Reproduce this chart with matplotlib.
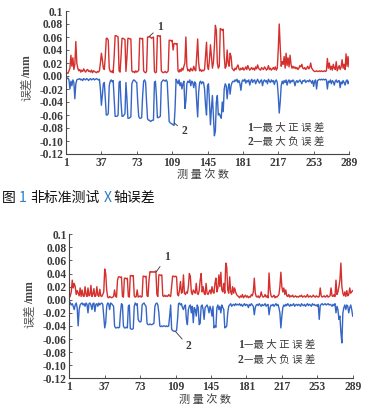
import numpy as np
import matplotlib
matplotlib.use("Agg")
import matplotlib.pyplot as plt

W, H = 369, 411

# ---------------- data (errors in 0.001 mm) ----------------
ticks_x = [1, 37, 73, 109, 145, 181, 217, 253, 289]
ticks_y = [-0.12, -0.10, -0.08, -0.06, -0.04, -0.02, 0.00, 0.02, 0.04, 0.06, 0.08, 0.1]
tick_y_labels = ['-0.12', '-0.10', '-0.08', '-0.06', '-0.04', '-0.02', '0.00',
                 '0.02', '0.04', '0.06', '0.08', '0.1']

top_pos = [3, 5, 4, 8, 12, 32, 15, 28, 10, 18, 53, 20, 12,
           8, 10, 6, 9, 7, 11, 8, 6, 9, 10, 7, 8, 6, 9, 5, 8, 7, 6, 5, 7, 6, 8,
           20, 35, 25, 12, 10, 30, 58, 58, 55, 12, 7, 6, 8, 5, 30,
           62, 62, 61, 60, 8, 6, 30, 58, 58, 57, 56, 7, 28, 58, 58, 57, 57, 8, 6, 7, 5, 8, 6, 7, 9,
           58, 58, 57, 58, 8, 6, 5, 7, 60, 60, 60, 60, 58, 59, 60, 7, 5, 6, 62, 62, 61, 62, 8, 6, 5,
           6, 7, 5, 6, 8, 55, 55, 54, 55, 40, 50, 50, 49, 50, 8, 6, 10, 7, 12, 9, 15, 20, 60, 15, 8,
           10, 7, 12, 9, 8, 15, 10, 8, 30, 57, 20, 8, 10, 7, 9,
           8, 10, 30, 52, 15, 10, 25, 48, 30, 12, 20, 45, 78, 70, 20, 12, 15, 73, 72, 70,
           72, 30, 12, 15, 40, 20, 15, 35, 30, 12, 10, 8,
           12, 10, 14, 17, 11, 9, 12, 10, 13, 9, 11, 14, 10, 16, 12, 9, 11, 13, 10, 12,
           9, 14, 11, 17, 12, 10, 9, 13, 11, 10, 14, 12, 9, 11, 16, 10, 12, 9, 11, 13, 10, 14, 9, 12,
           40, 80, 45, 15, 22, 18, 30, 12, 35, 16, 28, 14, 32, 18, 12, 15,
           12, 14, 11, 13, 10, 12, 16, 14, 18, 12, 11, 13, 10, 12, 15, 11, 13, 20, 12, 10,
           8, 7, 7, 8, 7, 7, 8, 7, 8, 7, 7, 8, 7, 8,
           27, 12, 20, 10, 15, 9, 18, 12, 10, 22, 8, 12, 16, 10, 14, 25, 12, 18, 10, 34, 15, 30, 14]

top_neg = [-2, -4, -3, -6, -20, -8, -15, -6, -10, -35, -12, -6, -5,
           -5, -4, -6, -5, -7, -4, -5, -6, -4, -5, -7, -5, -4, -6, -5, -4, -6, -5, -4, -5, -6, -5,
           -20, -45, -30, -12, -10, -35, -60, -60, -58, -15, -8, -6, -9, -7, -35,
           -62, -62, -62, -60, -10, -8, -40, -62, -62, -60, -58, -10, -35, -65, -65, -64, -63,
           -12, -8, -6, -7, -9, -10, -40, -62,
           -65, -65, -64, -30, -8, -6, -10, -40, -66, -68, -68, -70, -69, -68, -68, -10, -8, -30,
           -64, -64, -63, -62, -10, -8, -6,
           -7, -8, -6, -9, -40, -70, -72, -73, -74, -75, -76, -50, -5, -8, -12, -6, -15, -10, -20,
           -12, -8, -50, -38, -12, -8,
           -10, -6, -15, -8, -10, -18, -9, -12, -40, -63, -25, -10, -8, -12, -9,
           -10, -20, -45, -60, -15, -12, -40, -75, -50, -30, -60, -92, -85, -40, -30, -60, -58, -62,
           -65, -40, -55, -20, -12, -15, -35, -18, -12, -28, -15, -10, -8, -9,
           -6, -8, -5, -10, -7, -12, -22, -9, -6, -8, -5, -11, -7, -9, -6, -14, -8, -5, -10, -7,
           -6, -12, -8, -5, -9, -11, -7, -6, -15, -8, -6, -9, -7, -12, -5, -8, -10, -6, -9, -7,
           -13, -8, -6, -10,
           -30, -57, -40, -15, -8, -12, -7, -10, -6, -14, -8, -6, -11, -7, -9, -6,
           -8, -15, -9, -7, -10, -8, -6, -9, -12, -7, -8, -6, -10, -8, -7, -9, -6, -8, -11, -7,
           -16, -8, -6, -20, -7, -6, -5, -6, -5, -6, -5, -6, -5, -6,
           -20, -8, -10, -6, -12, -7, -9, -14, -8, -6, -10, -8, -7, -18, -9, -12, -7, -10, -14, -8,
           -6, -12, -8]

bot_pos = [3, 6, 12, 30, 18, 25, 20, 8, 14, 10, 6, 18, 5,
           15, 6, 5, 20, 8, 5, 18, 6, 7, 22, 5, 8, 17, 5, 6, 20, 7, 5, 16, 6, 5, 8, 12,
           47, 40, 15, 4, 3, 5, 4, 3, 4, 5, 15, 5, 4, 30,
           35, 35, 34, 35, 5, 4, 33, 33, 32, 33, 5, 4, 37, 37, 36, 37, 6, 4, 5, 15, 4, 5, 6, 4, 5,
           36, 36, 35, 36, 6, 5, 30, 43, 42, 43, 42, 43, 42, 44, 8, 5, 38, 38, 37, 38, 6, 5, 7, 5, 6,
           5, 8, 6, 5, 20, 36, 36, 35, 36, 35, 8, 6, 15, 28, 10, 12, 38, 10, 8, 12, 10, 20, 40, 36, 12,
           8, 15, 12, 10, 25, 10, 8, 14, 30, 40, 12, 20, 10, 8, 25,
           10, 8, 12, 15, 9, 20, 12, 10, 25, 33, 12, 18, 38, 20, 42, 15, 12, 25, 10, 56,
           50, 15, 10, 35, 12, 8, 20, 10, 18, 12, 8, 6,
           5, 3, 6, 4, 8, 3, 5, 7, 4, 6, 3, 5, 4, 8, 6, 12, 33, 10, 5, 4,
           6, 3, 5, 12, 6, 4, 5, 8, 4, 6, 3, 41, 15, 6, 4, 5, 7, 3, 5, 4, 6, 8, 20, 42,
           20, 12, 18, 8, 15, 6, 5, 8, 4, 6, 5, 7, 4, 5, 6, 4,
           5, 4, 6, 5, 7, 4, 5, 6, 4, 5, 8, 4, 5, 6, 4, 5, 7, 5, 4, 6,
           5, 4, 5, 18, 6, 4, 5, 6, 4, 5, 7, 4, 5, 6,
           18, 6, 5, 8, 5, 30, 8, 12, 20, 30, 56, 20, 10, 6, 12, 5, 14, 6, 8, 18, 10, 12, 14]

bot_neg = [-2, -5, -8, -6, -10, -15, -8, -5, -12, -40, -15, -8, -6,
           -5, -8, -6, -10, -5, -7, -20, -6, -5, -8, -15, -6, -5, -18, -7, -6, -10, -5, -8, -6, -5,
           -7, -25,
           -43, -35, -10, -5, -6, -15, -5, -6, -8, -10, -40, -43, -43, -42,
           -43, -42, -20, -6, -8, -40, -43, -43, -42, -43, -10, -8, -44, -45, -45, -44, -10,
           -5, -8, -6, -30, -33, -34, -33, -8,
           -6, -5, -8, -10, -36, -38, -38, -37, -38, -38, -37, -36, -10, -6, -5, -8,
           -20, -40, -41, -40, -41, -40, -40, -41, -40,
           -41, -40, -25, -8, -45, -47, -48, -48, -48, -47, -30, -6, -5, -8, -6, -12, -15, -10, -8,
           -30, -38, -15, -10, -8, -20,
           -10, -35, -12, -15, -25, -8, -12, -38, -36, -10, -8, -15, -30, -12, -10,
           -8, -12, -20, -10, -15, -25, -10, -43, -40, -42, -12, -8, -15, -10, -20, -8, -12, -15,
           -43, -42, -40, -20, -10, -8, -6, -10, -8, -7, -9, -6, -8, -7,
           -8, -6, -9, -7, -10, -8, -6, -9, -7, -8, -12, -7, -9, -6, -8, -10, -23, -12, -8, -7,
           -9, -6, -8, -10, -7, -9, -8, -6, -10, -8, -7, -23, -12, -8, -9, -7, -10, -8, -6, -9,
           -7, -12, -20, -43,
           -25, -12, -8, -10, -7, -9, -6, -8, -10, -7, -9, -8, -6, -10, -8, -7,
           -9, -7, -8, -10, -6, -8, -9, -7, -10, -8, -6, -9, -7, -8, -10, -6, -8, -7, -9, -8,
           -10, -7, -30, -9, -7, -6, -8, -7, -6, -8, -7, -6, -8, -7,
           -8, -10, -7, -9, -6, -20, -10, -15, -30, -25, -50, -66, -20, -12, -8, -15, -8, -10, -20,
           -12, -8, -15, -25]

caption_parts = [("图", "k"), ("1", "blue"), ("非标准测试", "k"), ("X", "blue"), ("轴误差", "k")]
legend_lines = [("1", "—最 大 正 误 差"), ("2", "—最 大 负 误 差")]
ylabel_cn, ylabel_unit = "误差", "/mm"
xlabel_txt = "测 量 次 数"

for arr in (top_pos, top_neg, bot_pos, bot_neg):
    assert len(arr) == 289, len(arr)

n = np.arange(1, 290)
RED = '#d4302e'
BLUE = '#3566c6'
CAP_BLUE = '#2a7cc4'
TXT = '#3a3a3a'
SERIF = 'Liberation Serif'
CJK = 'Noto Sans CJK SC'

fig = plt.figure(figsize=(W / 100, H / 100), dpi=100)
fig.patch.set_facecolor('white')


def fx(x):
    return x / W


def fy(y):
    return 1 - y / H


def make_axes(l, r, t, b):
    ax = fig.add_axes([fx(l), fy(b), fx(r) - fx(l), fy(t) - fy(b)])
    ax.set_xlim(1, 289)
    ax.set_ylim(-0.12, 0.1)
    ax.set_xticks(ticks_x)
    ax.set_yticks(ticks_y)
    ax.set_yticklabels(tick_y_labels)
    for s in ('top', 'right'):
        ax.spines[s].set_visible(False)
    for s in ('left', 'bottom'):
        ax.spines[s].set_color('#444444')
        ax.spines[s].set_linewidth(0.8)
    ax.tick_params(direction='in', length=2.5, width=0.6, colors='#444444', pad=2)
    for lab in ax.get_xticklabels() + ax.get_yticklabels():
        lab.set_fontfamily(SERIF)
        lab.set_fontweight('bold')
        lab.set_fontsize(8.3)
        lab.set_color(TXT)
    ax.set_facecolor('none')
    return ax


ax1 = make_axes(66, 349, 11, 154)
ax1.plot(n, np.array(top_pos) / 1000, color=RED, lw=1.0)
ax1.plot(n, np.array(top_neg) / 1000, color=BLUE, lw=1.0)

ax2 = make_axes(69.3, 352.7, 234.3, 378.3)
ax2.plot(n, np.array(bot_pos) / 1000, color=RED, lw=1.0)
ax2.plot(n, np.array(bot_neg) / 1000, color=BLUE, lw=1.0)

ann_kw = dict(fontfamily=SERIF, fontweight='bold', fontsize=8.3, color=TXT,
              ha='center', va='center',
              arrowprops=dict(arrowstyle='-', lw=0.6, color='#333333', shrinkA=1, shrinkB=0))
ax1.annotate('1', xy=(85.4, 0.0605), xytext=(96.6, 0.0754), **ann_kw)
ax1.annotate('2', xy=(111.2, -0.0723), xytext=(121.3, -0.085), **ann_kw)
ax2.annotate('1', xy=(89.6, 0.043), xytext=(99.8, 0.065), **ann_kw)
ax2.annotate('2', xy=(108.9, -0.0485), xytext=(122.4, -0.0714), **ann_kw)

r = fig.canvas.get_renderer()


def legend_block(x, y0, dy):
    for i, (num, rest) in enumerate(legend_lines):
        y = y0 + i * dy
        t = fig.text(fx(x), fy(y), num, fontfamily=SERIF, fontweight='bold', fontsize=8.3,
                     color=TXT, ha='left', va='center')
        w = t.get_window_extent(renderer=r).width
        fig.text(fx(x + w + 0.5), fy(y), rest, fontfamily=[CJK, SERIF], fontsize=7.6,
                 color=TXT, ha='left', va='center')


legend_block(247, 128, 14)
legend_block(238, 345, 15)

# y labels
for (xc, ycn, yun) in [(27, 89, 67), (30, 316, 293)]:
    fig.text(fx(xc), fy(ycn), ylabel_cn, fontfamily=CJK, fontsize=8.5, color='#555555',
             rotation=90, ha='center', va='center')
    fig.text(fx(xc), fy(yun), ylabel_unit, fontfamily=SERIF, fontweight='bold', fontsize=8.5,
             color='#444444', rotation=90, ha='center', va='center')

# x labels
fig.text(fx(203), fy(175), xlabel_txt, fontfamily=CJK, fontsize=8.0, color=TXT,
         ha='center', va='center')
fig.text(fx(205), fy(400), xlabel_txt, fontfamily=CJK, fontsize=8.0, color=TXT,
         ha='center', va='center')

# caption with coloured pieces
x = 2
gaps = [3, 4, 4, 1, 0]
for (s, c), g in zip(caption_parts, gaps):
    col = CAP_BLUE if c == 'blue' else '#111111'
    t = fig.text(fx(x), fy(198), s, fontfamily=CJK, fontsize=10, color=col,
                 ha='left', va='center')
    x += t.get_window_extent(renderer=r).width + g

fig.savefig('out.png', dpi=100, facecolor='white')
